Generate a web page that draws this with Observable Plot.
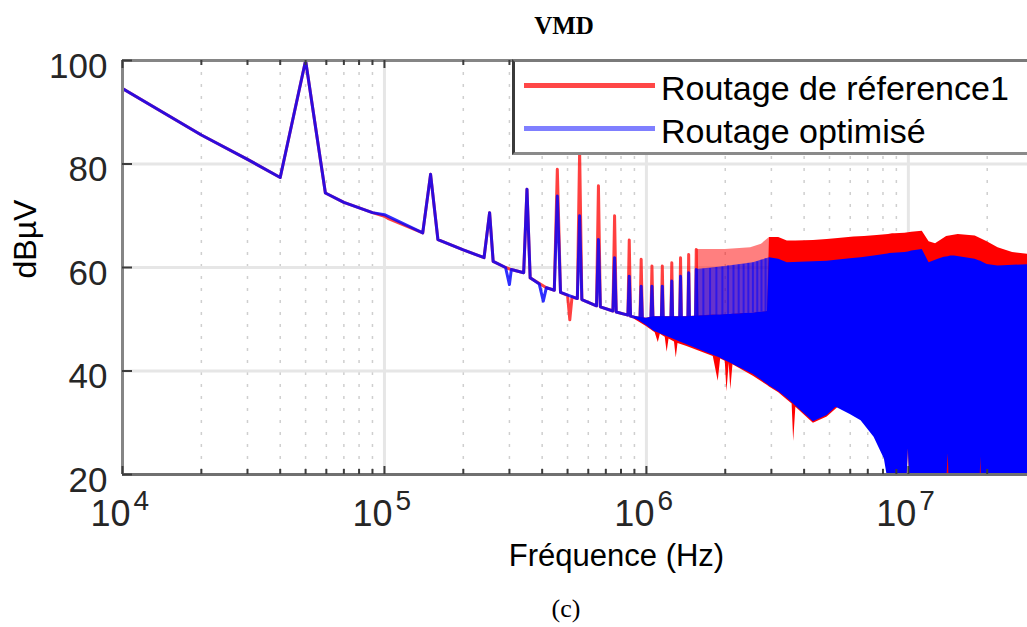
<!DOCTYPE html>
<html><head><meta charset="utf-8">
<script src="https://cdn.jsdelivr.net/npm/d3@7"></script>
<script src="https://cdn.jsdelivr.net/npm/@observablehq/plot@0.6"></script>
<style>
html,body{margin:0;padding:0;background:#fff;}
body{width:1027px;height:627px;overflow:hidden;position:relative;font-family:"Liberation Sans",Arial,sans-serif;}
#title{height:44px;box-sizing:border-box;padding-top:13px;padding-left:101px;text-align:center;font:bold 25px/25px "Liberation Serif","Times New Roman",serif;color:#000;}
#chart svg{display:block;}
#caption{height:37px;box-sizing:border-box;padding-top:6px;padding-left:105px;text-align:center;font:26px/26px "Liberation Serif","Times New Roman",serif;color:#000;}
#legend{position:absolute;left:512px;top:59px;width:540px;height:96px;box-sizing:border-box;background:#fff;border-left:3px solid #3a3a3a;border-top:3px solid #7a7a7a;border-bottom:3px solid #8a8a8a;}
#legend .sample{position:absolute;left:9px;width:131px;height:5px;}
#legend .lab{position:absolute;left:146px;font:34px/34px "Liberation Sans",Arial,sans-serif;color:#000;white-space:nowrap;}
</style>
</head><body>
<div id="title"></div>
<div id="chart"></div>
<div id="caption"></div>
<div id="legend"></div>
<script>
// ---- texts ----
const titleText = "VMD";
const captionText = "(c)";
const xLabel = "Fréquence (Hz)";
const yLabel = "dBµV";
const seriesNames = ["Routage de réference1", "Routage optimisé"];
const seriesColors = ["#ff0000", "#0000ff"];
const legendSampleColors = ["rgba(255,0,0,0.72)", "rgba(0,0,255,0.5)"];

// ---- axes ----
const xDomain = [1e4, 2.85e7];
const yDomain = [20, 100];
const yTicks = [20, 40, 60, 80, 100];
const xDecades = [1e4, 1e5, 1e6, 1e7];
const xExponents = ["4", "5", "6", "7"];
const xMinor = [2e4,3e4,4e4,5e4,6e4,7e4,8e4,9e4,
                2e5,3e5,4e5,5e5,6e5,7e5,8e5,9e5,
                2e6,3e6,4e6,5e6,6e6,7e6,8e6,9e6,
                2e7];

// ---- series: [frequency Hz, dBµV] ----
const redLine = [
 [1e4,94.6],[2e4,85.6],[3e4,80.9],[4.0e4,77.4],[5.0e4,100],[5.95e4,74.4],
 [7e4,72.6],[9e4,70.6],[1.0e5,69.9],[1.03e5,69.5],[1.4e5,66.7],[1.5e5,78.0],[1.6e5,65.4],
 [2.0e5,63.4],[2.4e5,61.9],[2.52e5,70.6],[2.6e5,61.2],[2.9e5,60.0],[3.05e5,59.6],[3.4e5,59.0],
 [3.5e5,75.1],[3.6e5,58.0],[4.15e5,56.1],[4.45e5,55.6],[4.57e5,79.0],[4.7e5,55.2],
 [5.0e5,54.6],[5.1e5,49.9],[5.2e5,54.3],[5.45e5,54.0],[5.56e5,82.5],[5.67e5,53.8],
 [6.45e5,52.6],[6.56e5,75.8],[6.67e5,52.4],[7.45e5,51.6],[7.56e5,70.0],[7.67e5,51.4],
 [8.5e5,50.8],[8.6e5,65.3],[8.7e5,50.6],[9.45e5,50.1],[9.55e5,61.6],[9.65e5,50.0],
 [1.04e6,49.7],[1.05e6,60.3],[1.06e6,49.6],[1.14e6,49.5],[1.15e6,60.3],[1.16e6,49.5],
 [1.24e6,49.5],[1.25e6,60.9],[1.26e6,49.5],[1.34e6,49.8],[1.35e6,61.9],[1.36e6,49.8],
 [1.44e6,50.0],[1.45e6,62.5],[1.46e6,50.0],[1.54e6,50.0],[1.55e6,63.5],[1.56e6,50.0]
];
const blueLine = [
 [1e4,94.6],[2e4,85.6],[3e4,80.9],[4.0e4,77.4],[5.0e4,100],[5.95e4,74.4],
 [7e4,72.6],[9e4,70.6],[1.0e5,70.2],[1.4e5,66.7],[1.5e5,78.0],[1.6e5,65.4],
 [2.0e5,63.4],[2.4e5,61.9],[2.52e5,70.6],[2.6e5,61.2],[2.9e5,60.0],[3.0e5,56.7],[3.05e5,59.6],[3.4e5,59.0],
 [3.5e5,75.1],[3.6e5,58.0],[3.9e5,56.8],[4.04e5,53.5],[4.15e5,56.1],[4.45e5,55.6],[4.57e5,73.8],[4.7e5,55.2],
 [5.45e5,54.0],[5.56e5,70.0],[5.67e5,53.8],
 [6.45e5,52.6],[6.56e5,65.4],[6.67e5,52.4],[7.45e5,51.6],[7.56e5,61.9],[7.67e5,51.4],
 [8.5e5,50.8],[8.6e5,58.3],[8.7e5,50.6],[9.45e5,50.1],[9.55e5,56.4],[9.65e5,50.0],
 [1.04e6,49.7],[1.05e6,56.4],[1.06e6,49.6],[1.14e6,49.5],[1.15e6,56.4],[1.16e6,49.5],
 [1.24e6,49.5],[1.25e6,57.4],[1.26e6,49.5],[1.34e6,49.8],[1.35e6,58.3],[1.36e6,49.8],
 [1.44e6,50.0],[1.45e6,59.0],[1.46e6,50.0],[1.54e6,50.0],[1.55e6,59.6],[1.56e6,50.0]
];
// dense part of the spectrum: [frequency, lower envelope, upper envelope]
const redBand = [
 [9.0e5,50.0,50.5],[1.0e6,48.6,50.2],[1.08e6,47.4,50.5],[1.11e6,45.5,50.5],[1.13e6,47.1,50.5],
 [1.18e6,46.5,50.5],[1.2e6,43.6,50.5],[1.22e6,46.2,50.5],[1.28e6,45.6,50.5],[1.3e6,42.5,50.5],
 [1.32e6,45.3,50.5],[1.42e6,44.8,50.5],[1.8e6,42.8,50.8],[1.88e6,38.0,50.8],[1.92e6,42.3,50.8],
 [2.0e6,41.9,50.9],[2.03e6,36.0,50.9],[2.07e6,41.5,50.9],[2.1e6,36.4,50.9],[2.14e6,41.2,51.0],
 [2.56e6,39.0,51.2],[2.9e6,37.2,51.5],[2.95e6,36.9,65.8],[3.2e6,35.8,65.8],[3.45e6,34.4,65.1],
 [3.6e6,33.6,65.1],[3.65e6,26.4,65.1],[3.72e6,33.0,65.1],[4.34e6,29.9,65.2],[4.9e6,31.1,65.4],
 [5.4e6,33.0,65.6],[6.2e6,31.6,65.9],[6.8e6,30.1,66.0],[7.6e6,27.0,66.2],[8.4e6,22.0,66.4],
 [8.7e6,18.5,66.5],[8.9e6,10,66.5],[9.7e6,10,66.6],[1.0e7,25.2,66.7],[1.03e7,10,66.8],
 [1.13e7,10,67.0],[1.2e7,10,65.0],[1.27e7,10,64.6],[1.4e7,10,66.0],[1.55e7,10,66.4],
 [1.8e7,10,66.1],[2.0e7,10,65.0],[2.2e7,10,63.8],[2.5e7,10,62.9],[3.0e7,10,62.4]
];
const redBandLight = [
 [1.56e6,50.5,63.5],[2.0e6,50.9,63.5],[2.5e6,51.2,63.8],[2.75e6,51.4,64.5],[2.95e6,51.5,65.8]
];
const blueBand = [
 [9.0e5,50.3,50.5],[1.0e6,48.8,50.2],[1.07e6,47.7,50.5],[1.42e6,45.1,50.5],[1.91e6,42.5,50.8],
 [2.56e6,39.3,51.2],[2.9e6,37.4,51.5],[2.95e6,37.1,61.9],[3.2e6,36.0,61.6],[3.45e6,34.7,60.9],
 [4.34e6,30.2,61.1],[4.9e6,31.4,61.2],[5.3e6,33.0,61.4],[6.0e6,31.6,61.7],[6.6e6,30.4,61.9],
 [7.4e6,27.2,62.2],[8.1e6,23.0,62.5],[8.35e6,19,62.6],[8.5e6,10,62.7],[9.7e6,10,62.9],
 [1.0e7,25,63.0],[1.03e7,10,63.2],[1.13e7,10,63.5],[1.2e7,10,60.9],[1.3e7,10,61.6],
 [1.37e7,10,62.0],[1.42e7,24,62.1],[1.45e7,10,62.2],[1.5e7,10,62.2],[1.8e7,10,61.6],
 [1.86e7,10,61.3],[1.89e7,23.4,61.2],[1.92e7,10,61.0],[2.0e7,10,60.6],[2.2e7,10,60.3],[3.0e7,10,60.6]
];
const blueBandLight = [
 [1.56e6,50.5,59.6],[2.0e6,50.8,60.2],[2.56e6,51.2,60.9],[2.95e6,51.5,61.9]
];
// individual harmonic lines visible inside the light part of the band: [frequency, bottom, top]
const blueHarmonics = [
 [1.65e6,50.5,59.7],[1.75e6,50.6,59.8],[1.85e6,50.6,60.0],[1.95e6,50.7,60.1],[2.05e6,50.8,60.3],
 [2.15e6,50.9,60.4],[2.25e6,51.0,60.5],[2.35e6,51.0,60.6],[2.45e6,51.1,60.8],[2.55e6,51.2,60.9],
 [2.65e6,51.3,61.1],[2.75e6,51.4,61.4],[2.85e6,51.5,61.7]
];

// ---- layout ----
const W = 1027, H = 546, MT = 16, MB = 116, ML = 122, MR = 0;
const innerW = W - ML - MR, innerH = H - MT - MB;
const fx = d => d[0], lo = d => d[1], hi = d => d[2];
const ink = "#262626";

const chart = Plot.plot({
  width: W, height: H,
  marginTop: MT, marginBottom: MB, marginLeft: ML, marginRight: MR,
  x: {type: "log", domain: xDomain, axis: null},
  y: {domain: yDomain, axis: null},
  style: {fontFamily: "'Liberation Sans', Arial, sans-serif", background: "#fff", overflow: "visible"},
  marks: [
    Plot.ruleX(xMinor, {x: d => d, stroke: "#cfcfcf", strokeWidth: 1.5, strokeDasharray: "3 9"}),
    Plot.ruleX(xDecades, {x: d => d, stroke: "#e6e6e6", strokeWidth: 3}),
    Plot.ruleY(yTicks, {y: d => d, stroke: "#e6e6e6", strokeWidth: 3}),

    Plot.areaY(redBand, {x: fx, y1: lo, y2: hi, fill: seriesColors[0], clip: true}),
    Plot.areaY(redBandLight, {x: fx, y1: lo, y2: hi, fill: seriesColors[0], fillOpacity: 0.5, clip: true}),
    Plot.line(redLine, {x: fx, y: lo, stroke: seriesColors[0], strokeOpacity: 0.75, strokeWidth: 3, clip: true}),

    Plot.areaY(blueBand, {x: fx, y1: lo, y2: hi, fill: seriesColors[1], clip: true}),
    Plot.areaY(blueBandLight, {x: fx, y1: lo, y2: hi, fill: seriesColors[1], fillOpacity: 0.6, clip: true}),
    Plot.ruleX(blueHarmonics, {x: fx, y1: lo, y2: hi, stroke: seriesColors[1], strokeOpacity: 0.55, strokeWidth: 2, clip: true}),
    Plot.line(blueLine, {x: fx, y: lo, stroke: seriesColors[1], strokeOpacity: 0.82, strokeWidth: 3, clip: true}),

    // axes box
    Plot.ruleY([yDomain[1]], {y: d => d, stroke: "#858585", strokeWidth: 3}),
    Plot.ruleY([yDomain[0]], {y: d => d, stroke: "#707070", strokeWidth: 3}),
    Plot.ruleX([xDomain[0]], {x: d => d, stroke: "#858585", strokeWidth: 3}),

    // inward ticks
    Plot.tickX(xMinor, {x: d => d, insetTop: innerH - 5, stroke: "#3c3c3c", strokeWidth: 2}),
    Plot.tickX(xMinor, {x: d => d, insetBottom: innerH - 5, stroke: "#3c3c3c", strokeWidth: 2}),
    Plot.tickX(xDecades, {x: d => d, insetTop: innerH - 8, stroke: "#3c3c3c", strokeWidth: 2}),
    Plot.tickX(xDecades, {x: d => d, insetBottom: innerH - 8, stroke: "#3c3c3c", strokeWidth: 2}),
    Plot.tickY(yTicks, {y: d => d, insetRight: innerW - 10, stroke: "#3c3c3c", strokeWidth: 2}),

    // tick labels
    Plot.text(yTicks, {y: d => d, frameAnchor: "left", text: d => String(d), textAnchor: "end", dx: -15, dy: 6, fontSize: 35, fill: ink}),
    Plot.text(xDecades, {x: d => d, frameAnchor: "bottom", text: () => "10", textAnchor: "end", dx: 8, dy: 51, fontSize: 36, fill: ink}),
    Plot.text(xDecades, {x: d => d, frameAnchor: "bottom", text: (d, i) => xExponents[i], textAnchor: "start", dx: 11, dy: 35, fontSize: 28, fill: ink}),

    // axis titles
    Plot.text([xLabel], {frameAnchor: "bottom", text: d => d, dx: 41.5, dy: 91, fontSize: 31, fill: "#000"}),
    Plot.text([yLabel], {frameAnchor: "left", text: d => d, rotate: -90, dx: -97, dy: 11, fontSize: 32, fill: "#000"})
  ]
});
document.getElementById("chart").appendChild(chart);
document.getElementById("title").textContent = titleText;
document.getElementById("caption").textContent = captionText;

// legend
const legend = document.getElementById("legend");
const sampleTops = [20.5, 63.5];
const labelTops = [9, 52];
seriesNames.forEach((name, i) => {
  const s = document.createElement("div");
  s.className = "sample";
  s.style.top = sampleTops[i] + "px";
  s.style.background = legendSampleColors[i];
  legend.appendChild(s);
  const t = document.createElement("div");
  t.className = "lab";
  t.style.top = labelTops[i] + "px";
  t.textContent = name;
  legend.appendChild(t);
});
</script>
</body></html>
